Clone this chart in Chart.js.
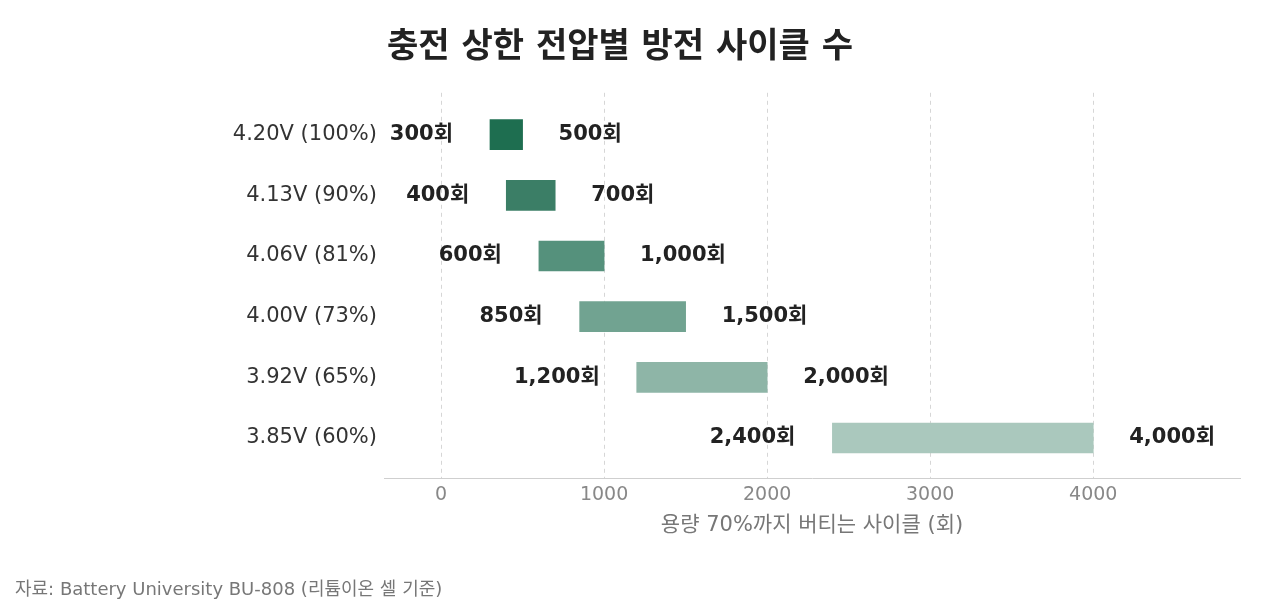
<!DOCTYPE html>
<html>
<head>
<meta charset="utf-8">
<script src="https://cdn.jsdelivr.net/npm/chart.js@4/dist/chart.umd.min.js"></script>
<style>
  html, body { margin: 0; padding: 0; background: #fff; }
  #wrap { width: 1280px; height: 615px; position: relative; }
</style>
</head>
<body>
<div id="wrap"><canvas id="chart"></canvas></div>
<script>
const FONT = "'DejaVu Sans', 'Noto Sans CJK KR', sans-serif"

const voltages = ["4.20V (100%)", "4.13V (90%)", "4.06V (81%)", "4.00V (73%)", "3.92V (65%)", "3.85V (60%)"]
const minCycles = [300, 400, 600, 850, 1200, 2400]
const maxCycles = [500, 700, 1000, 1500, 2000, 4000]
const barColors = ["#1e6e50", "#3b7e66", "#55917c", "#71a391", "#8eb5a7", "#aac8bd"]
const xTicks = [0, 1000, 2000, 3000, 4000]

const fmt = v => v.toLocaleString("en-US") + "회"

// 막대 양쪽에 최소/최대 사이클 표시
const rangeLabels = {
  id: "rangeLabels",
  afterDatasetsDraw(chart) {
    const ctx = chart.ctx
    const meta = chart.getDatasetMeta(0)
    ctx.save()
    ctx.font = "bold 21px " + FONT
    ctx.fillStyle = "#222"
    ctx.textBaseline = "middle"
    meta.data.forEach((bar, i) => {
      const left = Math.min(bar.x, bar.base)
      const right = Math.max(bar.x, bar.base)
      ctx.textAlign = "right"
      ctx.fillText(fmt(minCycles[i]), left - 37, bar.y)
      ctx.textAlign = "left"
      ctx.fillText(fmt(maxCycles[i]), right + 36, bar.y)
    })
    ctx.restore()
  }
}

const sourceNote = {
  id: "sourceNote",
  afterDraw(chart) {
    const ctx = chart.ctx
    ctx.save()
    ctx.font = "18px " + FONT
    ctx.fillStyle = "#777"
    ctx.textAlign = "left"
    ctx.textBaseline = "middle"
    ctx.fillText("자료: Battery University BU-808 (리튬이온 셀 기준)", 15, 590)
    ctx.restore()
  }
}

new Chart(document.getElementById("chart"), {
  type: "bar",
  data: {
    datasets: [{
      data: minCycles.map((v, i) => ({ x: [v, maxCycles[i]], y: i })),
      backgroundColor: barColors,
      borderWidth: 0,
      barThickness: 30
    }]
  },
  options: {
    indexAxis: "y",
    responsive: true,
    maintainAspectRatio: false,
    animation: false,
    layout: { padding: { left: 0, right: 40, top: 0, bottom: 77 } },
    plugins: {
      legend: { display: false },
      tooltip: { enabled: false },
      title: {
        display: true,
        text: "충전 상한 전압별 방전 사이클 수",
        color: "#222",
        font: { family: FONT, size: 34, weight: "bold" },
        padding: { top: 28, bottom: 24 }
      }
    },
    scales: {
      x: {
        type: "linear",
        min: -350,
        max: 4900,
        afterBuildTicks: scale => { scale.ticks = xTicks.map(v => ({ value: v })) },
        grid: { color: "#d6d6d6", drawTicks: false, lineWidth: 1 },
        border: { display: true, color: "#cfcfcf", dash: [4, 4] },
        ticks: {
          color: "#888",
          padding: 6,
          font: { family: FONT, size: 19 },
          callback: v => String(v)
        },
        title: {
          display: true,
          text: "용량 70%까지 버티는 사이클 (회)",
          color: "#777",
          padding: { top: 0, bottom: 0 },
          font: { family: FONT, size: 21 }
        }
      },
      y: {
        type: "linear",
        reverse: true,
        offset: false,
        min: -0.69,
        max: 5.66,
        afterBuildTicks: scale => { scale.ticks = voltages.map((_, i) => ({ value: i })) },
        afterFit: scale => { scale.width = 384 },
        grid: { display: false, drawTicks: false },
        border: { display: false },
        ticks: {
          color: "#333",
          padding: 7,
          font: { family: FONT, size: 21 },
          callback: v => voltages[v]
        }
      }
    }
  },
  plugins: [rangeLabels, sourceNote]
})
</script>
</body>
</html>
